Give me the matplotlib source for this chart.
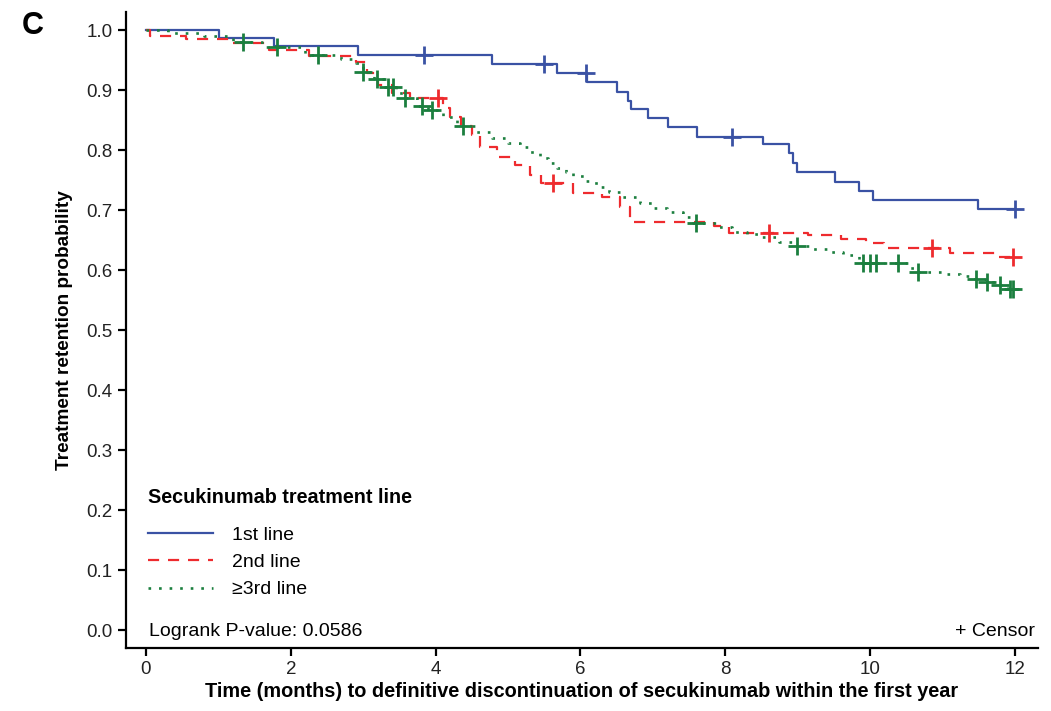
import numpy as np
import matplotlib.pyplot as plt
from matplotlib.lines import Line2D

plt.rcParams['font.family'] = ['Liberation Sans', 'DejaVu Sans']

# 1st line
t1 = [0, 1.01, 1.77, 2.93, 4.78, 5.68, 6.09, 6.5, 6.66, 6.7, 6.93, 7.21, 7.61,
      8.52, 8.88, 8.94, 8.99, 9.51, 9.85, 10.04, 11.49]
s1 = [1.0, 0.986, 0.973, 0.958, 0.943, 0.929, 0.914, 0.897, 0.881, 0.868, 0.853,
      0.838, 0.822, 0.81, 0.795, 0.779, 0.763, 0.747, 0.732, 0.717, 0.702]
c1 = [3.84, 5.5, 6.08, 8.1, 12.0]

# 2nd line
t2 = [0, 0.05, 0.55, 1.15, 1.7, 2.25, 2.9, 3.05, 3.2, 3.4, 3.65, 4.1, 4.2, 4.35,
      4.5, 4.62, 4.85, 5.1, 5.3, 5.45, 5.9, 6.3, 6.55, 6.68, 7.85, 8.05, 9.15,
      9.6, 9.95, 10.2, 11.1, 11.75]
s2 = [1.0, 0.99, 0.985, 0.978, 0.967, 0.957, 0.946, 0.928, 0.908, 0.895, 0.887,
      0.87, 0.855, 0.84, 0.825, 0.805, 0.789, 0.775, 0.758, 0.745, 0.728, 0.722,
      0.705, 0.68, 0.673, 0.662, 0.658, 0.652, 0.645, 0.637, 0.628, 0.622]
c2 = [4.03, 5.62, 8.6, 10.85, 11.98]

# >=3rd line
t3 = [0, 0.3, 0.8, 1.2, 1.6, 2.2, 2.7, 2.9, 3.0, 3.15, 3.3, 3.45, 3.55, 3.75,
      3.9, 4.1, 4.3, 4.55, 4.78, 5.0, 5.16, 5.3, 5.44, 5.55, 5.67, 5.8, 5.9,
      6.05, 6.22, 6.4, 6.55, 6.82, 7.0, 7.19, 7.42, 7.55, 7.9, 8.1, 8.3, 8.48,
      8.75, 8.95, 9.2, 9.4, 9.63, 9.85, 10.55, 10.66, 11.0, 11.24, 11.45, 11.6,
      11.75, 11.9]
s3 = [1.0, 0.995, 0.99, 0.98, 0.972, 0.958, 0.952, 0.945, 0.93, 0.918, 0.905,
      0.895, 0.886, 0.874, 0.867, 0.855, 0.84, 0.83, 0.82, 0.812, 0.805, 0.796,
      0.787, 0.778, 0.77, 0.763, 0.756, 0.748, 0.739, 0.73, 0.722, 0.712, 0.704,
      0.697, 0.689, 0.678, 0.672, 0.664, 0.66, 0.655, 0.647, 0.64, 0.635, 0.63,
      0.625, 0.612, 0.604, 0.597, 0.593, 0.59, 0.585, 0.58, 0.575, 0.568]
c3 = [1.34, 1.81, 2.37, 3.0, 3.19, 3.34, 3.41, 3.58, 3.81, 3.95, 4.38, 7.6,
      8.99, 9.9, 10.0, 10.08, 10.39, 10.66, 11.47, 11.61, 11.79, 11.93, 11.97]

labels = ['1st line', '2nd line', '\u22653rd line']
colors = ['#3a52a4', '#ee2b2e', '#1b7f3e']
styles = ['-', (0, (5, 4)), (0, (1, 3))]
widths = [1.6, 1.6, 1.9]

fig = plt.figure(figsize=(10.51, 7.11), dpi=100)
ax = fig.add_axes([0.1199, 0.0886, 0.8677, 0.8945])

for t, s, c, col, ls, lw in zip([t1, t2, t3], [s1, s2, s3], [c1, c2, c3],
                                colors, styles, widths):
    tt = np.append(t, 12.0)
    ss = np.append(s, s[-1])
    ax.step(tt, ss, where='post', color=col, linestyle=ls, linewidth=lw)
    idx = np.searchsorted(t, c, side='right') - 1
    ax.plot(c, np.array(s)[idx], linestyle='none', marker='+', markersize=13,
            markeredgewidth=2, color=col)

ax.set_xlim(-0.276, 12.32)
ax.set_ylim(-0.03, 1.03)
ax.set_xticks(range(0, 13, 2))
ax.set_yticks(np.arange(0, 1.01, 0.1))
ax.set_yticklabels([f'{v:.1f}' for v in np.arange(0, 1.01, 0.1)])
ax.tick_params(labelsize=13.5, width=1.6, length=6, color='black', labelcolor='#222222')
for side in ['top', 'right']:
    ax.spines[side].set_visible(False)
for side in ['left', 'bottom']:
    ax.spines[side].set_linewidth(1.6)

ax.set_xlabel('Time (months) to definitive discontinuation of secukinumab within the first year',
              fontsize=14.3, fontweight='bold', labelpad=3)
ax.set_ylabel('Treatment retention probability', fontsize=13.7, fontweight='bold', labelpad=10)

handles = [Line2D([], [], color=col, linestyle=ls, linewidth=lw)
           for col, ls, lw in zip(colors, styles, widths)]
leg = ax.legend(handles, labels, title='Secukinumab treatment line', loc='upper left',
                bbox_to_anchor=(0.024, 0.252), frameon=False, fontsize=14,
                title_fontproperties={'weight': 'bold', 'size': 14.2},
                handlelength=3.35, handletextpad=0.98, labelspacing=0.5,
                alignment='left', borderaxespad=0, borderpad=0)
leg._legend_box.sep = 14

ax.text(0.025, 0.012, 'Logrank P-value: 0.0586', transform=ax.transAxes,
        fontsize=14, ha='left', va='bottom')
ax.text(0.997, 0.012, '+ Censor', transform=ax.transAxes,
        fontsize=14, ha='right', va='bottom')
fig.text(0.021, 0.952, 'C', fontsize=22, fontweight='bold')

fig.savefig('out.png', dpi=100)
